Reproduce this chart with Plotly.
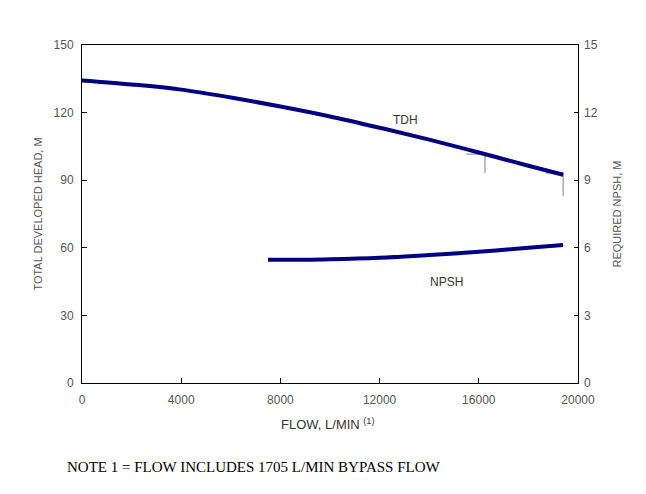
import plotly.graph_objects as go

# TDH curve (left axis, m)
tdh_flow = [0, 2000, 4000, 6000, 8000, 10000, 12000, 14000, 16000, 18000, 19400]
tdh_head = [134.3, 132.5, 130.2, 126.7, 122.7, 118.3, 113.3, 108.0, 102.3, 96.4, 92.4]

# NPSH curve (right axis, m)
npsh_flow = [7500, 9000, 10000, 12000, 14000, 16000, 18000, 19400]
npsh_val = [5.47, 5.47, 5.49, 5.56, 5.68, 5.82, 6.0, 6.12]

# Gray operating-point brackets (flow, head)
bracket1_flow = [15480, 16250, 16250]
bracket1_head = [101.6, 101.6, 93.2]
bracket2_flow = [18700, 19400, 19400]
bracket2_head = [93.2, 93.2, 83.0]

x_ticks = [0, 4000, 8000, 12000, 16000, 20000]
x_labels = ["0", "4000", "8000", "12000", "16000", "20000"]
y_ticks = [0, 30, 60, 90, 120, 150]
y2_ticks = [0, 3, 6, 9, 12, 15]

navy = "#000080"
gray = "#808080"
txt = "#555555"
sans = "Liberation Sans, Arial"

fig = go.Figure()
fig.add_trace(go.Scatter(x=bracket1_flow, y=bracket1_head, mode="lines",
                         line=dict(color=gray, width=1), showlegend=False))
fig.add_trace(go.Scatter(x=bracket2_flow, y=bracket2_head, mode="lines",
                         line=dict(color=gray, width=1), showlegend=False))
fig.add_trace(go.Scatter(x=tdh_flow, y=tdh_head, mode="lines", line_shape="spline",
                         line=dict(color=navy, width=4), showlegend=False))
fig.add_trace(go.Scatter(x=npsh_flow, y=npsh_val, mode="lines", line_shape="spline",
                         line=dict(color=navy, width=4), yaxis="y2", showlegend=False))

fig.add_annotation(x=13050, y=116.5, text="TDH", showarrow=False,
                   font=dict(size=12, color="#333333", family=sans))
fig.add_annotation(x=14700, y=4.5, yref="y2", text="NPSH", showarrow=False,
                   font=dict(size=12, color="#333333", family=sans))
fig.add_annotation(x=0.495, y=-0.092, xref="paper", yref="paper",
                   text="FLOW, L/MIN <sup>(1)</sup>", showarrow=False, yanchor="top",
                   font=dict(size=13, color="#333333", family=sans))
fig.add_annotation(x=(65 - 82) / 496, y=(383 - 467) / 338, xref="paper", yref="paper",
                   showarrow=False, xanchor="left", yanchor="middle",
                   text="NOTE 1 = FLOW INCLUDES 1705 L/MIN BYPASS FLOW",
                   font=dict(size=15, color="#000000", family="Liberation Serif, Times New Roman"))

axis_font = dict(size=12, color=txt, family=sans)
title_font = dict(size=11, color=txt, family=sans)
fig.update_layout(
    width=638, height=486,
    margin=dict(l=74, r=68, t=37, b=111),
    plot_bgcolor="white", paper_bgcolor="white",
    xaxis=dict(range=[0, 20000], tickvals=x_ticks, ticktext=x_labels, ticks="inside",
               ticklen=5, tickcolor="black", showgrid=False, zeroline=False,
               showline=True, linecolor="black", linewidth=1, mirror=True,
               tickfont=axis_font, ticklabelstandoff=6),
    yaxis=dict(range=[0, 150], tickvals=y_ticks, ticks="inside", ticklen=5,
               tickcolor="black", showgrid=False, zeroline=False, showline=True,
               linecolor="black", linewidth=1, mirror=True, tickfont=axis_font,
               ticklabelstandoff=5,
               title=dict(text="TOTAL DEVELOPED HEAD, M", standoff=8, font=title_font)),
    yaxis2=dict(range=[0, 15], tickvals=y2_ticks, ticks="inside", ticklen=4,
                tickcolor="black", overlaying="y", side="right", showgrid=False,
                zeroline=False, showline=False, tickfont=axis_font,
                ticklabelstandoff=5,
                title=dict(text="REQUIRED NPSH, M", standoff=16, font=title_font)),
)

fig.write_html("out.html")
